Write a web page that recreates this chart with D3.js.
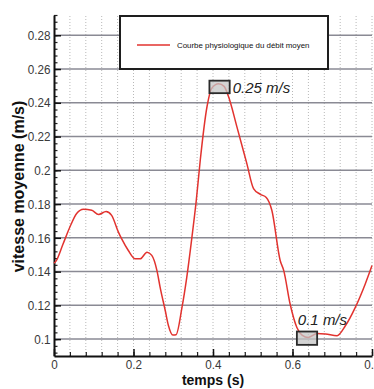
<!DOCTYPE html>
<html>
<head>
<meta charset="utf-8">
<script src="https://cdn.jsdelivr.net/npm/d3@7"></script>
<style>
  body { margin: 0; background: #fff; }
  svg { display: block; }
</style>
</head>
<body>
<div id="chart"></div>
<script>
// temps (s) et vitesse moyenne (m/s)
const temps = [0, 0.005, 0.023, 0.04, 0.057, 0.074, 0.095, 0.112, 0.131, 0.145, 0.162, 0.17, 0.187,
  0.204, 0.217, 0.234, 0.246, 0.259, 0.267, 0.28, 0.288, 0.299, 0.307, 0.322, 0.334, 0.347, 0.358,
  0.368, 0.385, 0.397, 0.414, 0.428, 0.439, 0.46, 0.485, 0.502, 0.519, 0.534, 0.548, 0.569, 0.578,
  0.594, 0.611, 0.624, 0.64, 0.662, 0.683, 0.712, 0.733, 0.758, 0.783, 0.8];
const vitesse = [0.145, 0.1462, 0.1565, 0.1664, 0.1744, 0.1769, 0.1763, 0.1738, 0.1756, 0.1733, 0.1634,
  0.1595, 0.1525, 0.1476, 0.1476, 0.1515, 0.1496, 0.1406, 0.1307, 0.1168, 0.1079, 0.1024, 0.1026,
  0.1188, 0.1366, 0.1604, 0.1823, 0.2061, 0.2378, 0.2487, 0.2513, 0.2497, 0.2437, 0.2259, 0.2041,
  0.1892, 0.1858, 0.1839, 0.1763, 0.1466, 0.1406, 0.1208, 0.1069, 0.1024, 0.101, 0.1033, 0.103,
  0.102, 0.1079, 0.1188, 0.1327, 0.1436];

const xTicks = [0, 0.2, 0.4, 0.6, 0.8];
const yTicks = [0.1, 0.12, 0.14, 0.16, 0.18, 0.2, 0.22, 0.24, 0.26, 0.28];

// encadrés du max et du min
const boxT0 = [0.391, 0.611];
const boxT1 = [0.442, 0.662];
const boxV0 = [0.2457, 0.0966];
const boxV1 = [0.2531, 0.1045];
const boxLabels = ["0.25 m/s", "0.1 m/s"];

const legendLabel = "Courbe physiologique du débit moyen";

const W = 374, H = 389;
const margin = { top: 15, right: 2, bottom: 33, left: 54 };
const red = "#e2332f";
const sans = "'Liberation Sans', Arial, sans-serif";

const svg = d3.select("#chart").append("svg")
  .attr("width", W).attr("height", H);

const x = d3.scaleLinear().domain([0, 0.8]).range([margin.left, W - margin.right]);
const y = d3.scaleLinear().domain([0.09, 0.292]).range([H - margin.bottom, margin.top]);

// grille verticale pointillée
svg.append("g")
  .selectAll("line")
  .data(d3.range(1, 21).map(i => i * 0.04))
  .join("line")
  .attr("x1", d => x(d)).attr("x2", d => x(d))
  .attr("y1", y.range()[0]).attr("y2", y.range()[1])
  .attr("stroke", "#b8b8b8")
  .attr("stroke-width", 1)
  .attr("stroke-dasharray", "1,2");

// grille horizontale
svg.append("g")
  .selectAll("line")
  .data(yTicks)
  .join("line")
  .attr("x1", x.range()[0]).attr("x2", x.range()[1])
  .attr("y1", d => y(d)).attr("y2", d => y(d))
  .attr("stroke", "#8a8a94")
  .attr("stroke-width", 1.5);

const fmt = d => String(+d.toFixed(2));

// ticks mineurs
svg.append("g")
  .attr("transform", `translate(${margin.left},0)`)
  .call(d3.axisLeft(y).tickValues(d3.range(0, 51).map(i => 0.092 + i * 0.004)).tickSize(-3.5).tickFormat(""))
  .call(g => g.select(".domain").remove())
  .selectAll("line").attr("stroke", "#222").attr("stroke-width", 1.2);

svg.append("g")
  .attr("transform", `translate(0,${H - margin.bottom})`)
  .call(d3.axisBottom(x).tickValues(d3.range(0, 21).map(i => i * 0.04)).tickSize(-4).tickFormat(""))
  .call(g => g.select(".domain").remove())
  .selectAll("line").attr("stroke", "#222").attr("stroke-width", 1.2);

// axes principaux
const yAxis = svg.append("g")
  .attr("transform", `translate(${margin.left},0)`)
  .call(d3.axisLeft(y).tickValues(yTicks).tickSize(-7).tickPadding(4).tickFormat(fmt).tickSizeOuter(0));

const xAxis = svg.append("g")
  .attr("transform", `translate(0,${H - margin.bottom})`)
  .call(d3.axisBottom(x).tickValues(xTicks).tickSize(-7).tickPadding(4).tickFormat(fmt).tickSizeOuter(0));

[yAxis, xAxis].forEach(g => {
  g.select(".domain").attr("stroke", "#111").attr("stroke-width", 2);
  g.selectAll(".tick line").attr("stroke", "#111").attr("stroke-width", 1.5);
  g.selectAll("text")
    .attr("fill", "#3a3a3a")
    .attr("transform", "scale(0.9,1)")
    .style("font-family", sans)
    .style("font-size", "13px");
});

// courbe
const pts = temps.map((t, i) => [t, vitesse[i]]);
svg.append("path")
  .datum(pts)
  .attr("fill", "none")
  .attr("stroke", red)
  .attr("stroke-width", 1.5)
  .attr("d", d3.line().x(d => x(d[0])).y(d => y(d[1])).curve(d3.curveMonotoneX));

// encadrés + valeurs
boxLabels.forEach((lab, i) => {
  svg.append("rect")
    .attr("x", x(boxT0[i])).attr("y", y(boxV1[i]))
    .attr("width", x(boxT1[i]) - x(boxT0[i]))
    .attr("height", y(boxV0[i]) - y(boxV1[i]))
    .attr("fill", "#c4c4c4").attr("fill-opacity", 0.75)
    .attr("stroke", "#2a2a2a").attr("stroke-width", 1.8);
});

const annot = svg.append("g")
  .style("font-family", sans)
  .style("font-size", "15px")
  .style("font-style", "italic")
  .attr("fill", "#222");
annot.append("text")
  .attr("x", x(boxT1[0]) + 3).attr("y", y(boxV0[0]))
  .text(boxLabels[0]);
annot.append("text")
  .attr("x", x(boxT0[1]) + 1).attr("y", y(boxV1[1]) - 7)
  .text(boxLabels[1]);

// légende
const leg = svg.append("g");
leg.append("rect")
  .attr("x", 120).attr("y", 16).attr("width", 208).attr("height", 53)
  .attr("fill", "#fff").attr("stroke", "#1e1e1e").attr("stroke-width", 2);
leg.append("line")
  .attr("x1", 137).attr("x2", 170).attr("y1", 45).attr("y2", 45)
  .attr("stroke", red).attr("stroke-width", 1.5);
leg.append("text")
  .attr("x", 177).attr("y", 48)
  .style("font-family", sans)
  .style("font-size", "7.9px")
  .attr("fill", "#111")
  .text(legendLabel);

// titres des axes
svg.append("text")
  .attr("transform", `translate(24,${(y.range()[0] + y.range()[1]) / 2 + 1}) rotate(-90)`)
  .attr("text-anchor", "middle")
  .style("font-family", sans)
  .style("font-size", "16px")
  .style("font-weight", "bold")
  .attr("fill", "#111")
  .text("vitesse moyenne (m/s)");

svg.append("text")
  .attr("x", 213).attr("y", 385)
  .attr("text-anchor", "middle")
  .style("font-family", sans)
  .style("font-size", "14px")
  .style("font-weight", "bold")
  .attr("fill", "#111")
  .text("temps (s)");
</script>
</body>
</html>
